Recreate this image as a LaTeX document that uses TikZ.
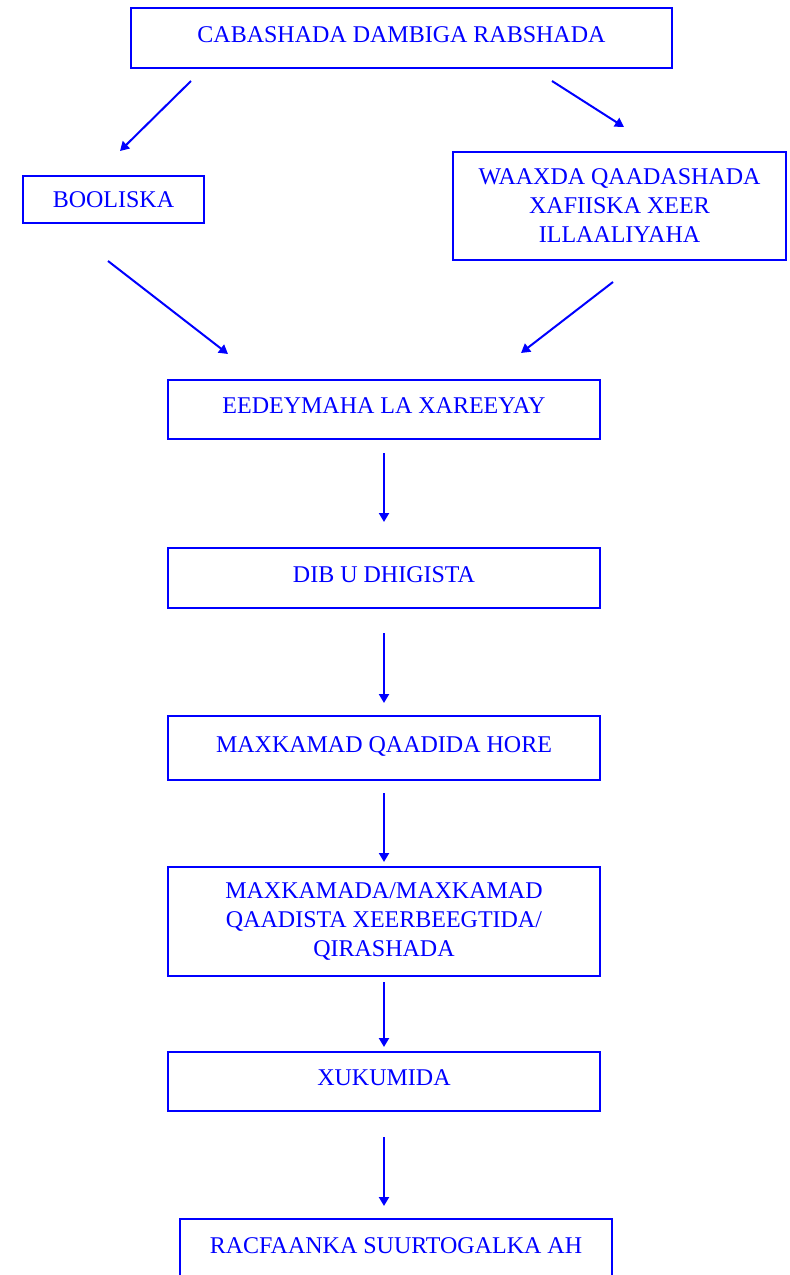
\documentclass[tikz,border=0pt]{standalone}
\usepackage{fontspec}
\setmainfont{Liberation Serif}
\usetikzlibrary{arrows.meta}
\begin{document}
\begin{tikzpicture}[x=1pt,y=-1pt,
    box/.style={draw=blue,line width=2pt,text=blue,font=\fontsize{24}{29}\selectfont,
      minimum width=432pt,align=center,inner sep=0pt},
    one/.style={text height=16pt,text depth=8pt},
    arr/.style={draw=blue,line width=2pt,-{Triangle[length=9pt,width=10pt]}}]
  \useasboundingbox (0,0) rectangle (790,1275);
  \begin{scope}[every node/.style={box}]
    \node (cab) [one,minimum width=541pt,minimum height=60pt] at (401.5,38) {CABASHADA DAMBIGA RABSHADA};
    \node (bool) [minimum width=181pt,minimum height=47pt] at (113.5,199.5) {BOOLISKA};
    \node (waax) [minimum width=333pt,minimum height=108pt] at (619.5,206) {WAAXDA QAADASHADA\\XAFIISKA XEER\\ILLAALIYAHA};
    \node (eed) [one,minimum height=59pt] at (384,409.5) {EEDEYMAHA LA XAREEYAY};
    \node (dib) [one,minimum height=60pt] at (384,578) {DIB U DHIGISTA};
    \node (hore) [one,minimum height=64pt] at (384,748) {MAXKAMAD QAADIDA HORE};
    \node (qaad) [minimum height=109pt] at (384,921.5) {MAXKAMADA/MAXKAMAD\\QAADISTA XEERBEEGTIDA/\\QIRASHADA};
    \node (xuk) [one,minimum height=59pt] at (384,1081.5) {XUKUMIDA};
    \node (racf) [one,minimum height=60pt] at (396,1249) {RACFAANKA SUURTOGALKA AH};
  \end{scope}
  \draw[arr] ([xshift=-210.5pt,yshift=-12pt]cab.south) -- ([xshift=6.5pt,yshift=24pt]bool.north);
  \draw[arr] ([xshift=150.5pt,yshift=-12pt]cab.south) -- ([xshift=4.5pt,yshift=24pt]waax.north);
  \draw[arr] ([xshift=-5.5pt,yshift=-37pt]bool.south) -- ([xshift=-156pt,yshift=25pt]eed.north);
  \draw[arr] ([xshift=-6.5pt,yshift=-21pt]waax.south) -- ([xshift=137pt,yshift=26pt]eed.north);
  \draw[arr] ([yshift=-13pt]eed.south) -- ([yshift=25pt]dib.north);
  \draw[arr] ([yshift=-24pt]dib.south) -- ([yshift=12pt]hore.north);
  \draw[arr] ([yshift=-12pt]hore.south) -- ([yshift=4pt]qaad.north);
  \draw[arr] ([yshift=-5pt]qaad.south) -- ([yshift=4pt]xuk.north);
  \draw[arr] ([yshift=-25pt]xuk.south) -- ([xshift=-12pt,yshift=12pt]racf.north);
\end{tikzpicture}
\end{document}
